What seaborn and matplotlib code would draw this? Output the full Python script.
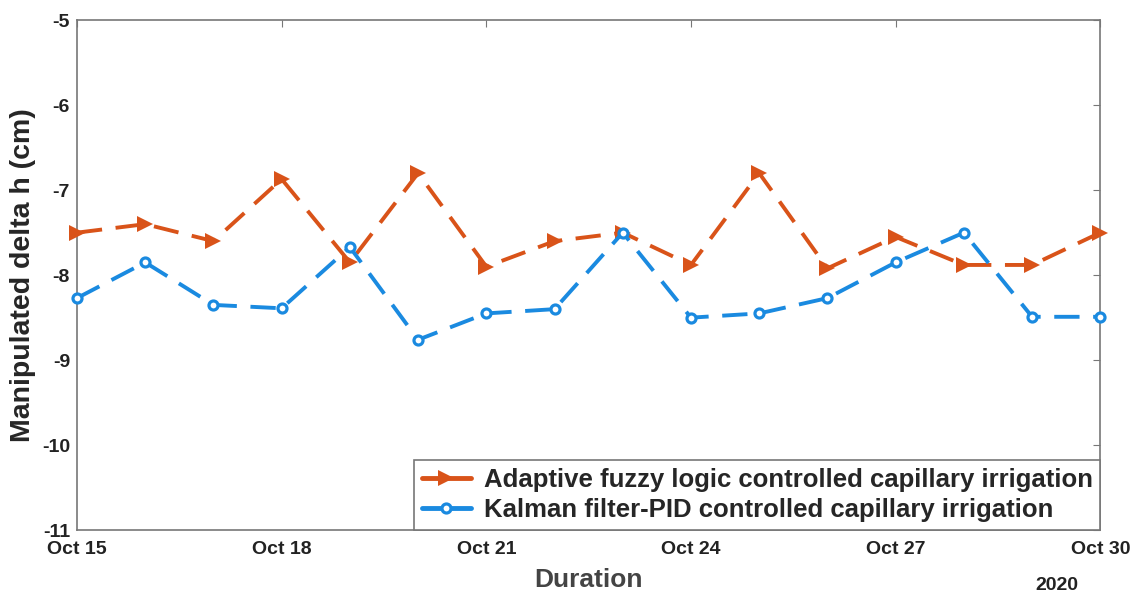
import matplotlib
matplotlib.use("Agg")
import matplotlib.pyplot as plt
import seaborn as sns
import pandas as pd

dates = pd.date_range("2020-10-15", "2020-10-30", freq="D")
fuzzy = [-7.5, -7.4, -7.6, -6.87, -7.85, -6.8, -7.9, -7.6, -7.5, -7.88, -6.8, -7.92, -7.55, -7.88, -7.88, -7.5]
kalman = [-8.27, -7.85, -8.35, -8.39, -7.67, -8.76, -8.45, -8.4, -7.5, -8.5, -8.45, -8.27, -7.85, -7.5, -8.49, -8.49]
labels = ["Adaptive fuzzy logic controlled capillary irrigation",
          "Kalman filter-PID controlled capillary irrigation"]
tick_dates = pd.to_datetime(["2020-10-15", "2020-10-18", "2020-10-21", "2020-10-24", "2020-10-27", "2020-10-30"])
tick_labels = ["Oct 15", "Oct 18", "Oct 21", "Oct 24", "Oct 27", "Oct 30"]
yticks = [-11, -10, -9, -8, -7, -6, -5]

sns.set_style("white")
plt.rcParams["font.family"] = ["Liberation Sans", "DejaVu Sans"]
plt.rcParams["font.weight"] = "bold"

fig = plt.figure(figsize=(11.32, 5.93), dpi=100)
ax = fig.add_axes([0.068, 0.106, 0.904, 0.86])

orange = "#D95319"
blue = "#1A8AE0"
df1 = pd.DataFrame({"date": dates, "val": fuzzy})
df2 = pd.DataFrame({"date": dates, "val": kalman})
sns.lineplot(data=df1, x="date", y="val", ax=ax, color=orange, lw=2.8,
             marker=">", markersize=11, markeredgewidth=0, label=labels[0],
             clip_on=False, zorder=3)
sns.lineplot(data=df2, x="date", y="val", ax=ax, color=blue, lw=2.8,
             marker="o", markersize=6.5, markerfacecolor="white", markeredgecolor=blue,
             markeredgewidth=2.3, label=labels[1], clip_on=False, zorder=3)
for line in ax.get_lines()[:2]:
    line.set_linestyle((0, (6.5, 3.5)))

ax.set_xlim(dates[0], dates[-1])
ax.set_ylim(-11, -5)
ax.set_xticks(tick_dates)
ax.set_xticklabels(tick_labels)
ax.set_yticks(yticks)
ax.set_yticklabels([str(v) for v in yticks])
ax.tick_params(axis="both", direction="in", length=5, width=0.8, color="#777777",
               labelsize=14, labelcolor="#222222", top=True, right=True)
ax.tick_params(axis="x", pad=8)
ax.tick_params(axis="y", pad=5)
for lab in ax.get_xticklabels() + ax.get_yticklabels():
    lab.set_fontweight("bold")
for s in ax.spines.values():
    s.set_visible(True)
    s.set_color("#777777")
    s.set_linewidth(1.2)

ax.set_xlabel("Duration", fontsize=19, fontweight="bold", color="#444444", labelpad=7)
ax.set_ylabel("Manipulated delta h (cm)", fontsize=20.5, fontweight="bold", color="#262626", labelpad=4)
fig.text(1057 / 1132, 1 - 585 / 593, "2020", ha="center", va="center",
         fontsize=14, fontweight="bold", color="#222222")

leg = ax.legend(loc="lower right", borderaxespad=0, fancybox=False, framealpha=1,
                edgecolor="#777777", prop={"size": 18.5, "weight": "bold"},
                handlelength=1.9, handletextpad=0.5, borderpad=0.3, labelspacing=0.25)
leg.get_frame().set_linewidth(1.2)
for h in leg.get_lines():
    h.set_linestyle("-")
    h.set_linewidth(3.5)
    h.set_markevery([1])

fig.savefig("out.png", dpi=100)
